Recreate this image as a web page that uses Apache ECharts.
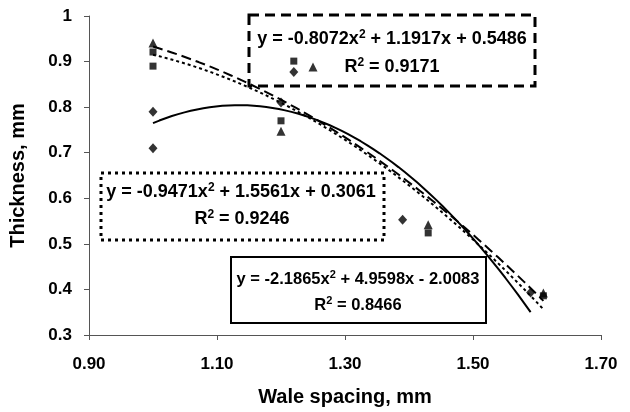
<!DOCTYPE html>
<html><head><meta charset="utf-8">
<script src="https://cdn.jsdelivr.net/npm/echarts@6/dist/echarts.min.js"></script>
<style>html,body{margin:0;padding:0;background:#fff}#c{width:630px;height:412px}</style>
</head><body><div id="c"></div>
<script>
// Data
const diamondX = [1.00, 1.00, 1.20, 1.22, 1.39, 1.59];
const diamondY = [0.79, 0.71, 0.81, 0.877, 0.553, 0.393];
const squareX  = [1.00, 1.00, 1.20, 1.22, 1.43, 1.61];
const squareY  = [0.921, 0.89, 0.77, 0.901, 0.524, 0.386];
const triangleX = [1.00, 1.20, 1.25, 1.43, 1.61];
const triangleY = [0.941, 0.747, 0.888, 0.542, 0.392];
// Trendline coefficients shown on the chart (a, b, c of a*x^2 + b*x + c)
const fitDiamond  = [-2.1865, 4.9598, -2.0083];
const fitSquare   = [-0.9471, 1.5561, 0.3061];
const fitTriangle = [-0.8072, 1.1917, 0.5486];
const r2 = { diamond: '0.8466', square: '0.9246', triangle: '0.9171' };
const xTicks = ['0.90', '1.10', '1.30', '1.50', '1.70'];

function pairs(xs, ys) { return xs.map((x, i) => [x, ys[i]]); }
function curve(coef, xs) {
  const x0 = Math.min(...xs), x1 = Math.max(...xs), out = [];
  const n = 60;
  for (let i = 0; i <= n; i++) {
    const x = x0 + (x1 - x0) * i / n;
    out.push([x, coef[0] * x * x + coef[1] * x + coef[2]]);
  }
  return out;
}
function eq(coef) {
  const f = v => Math.abs(v).toFixed(4);
  const s = v => v < 0 ? ' - ' : ' + ';
  return 'y = ' + (coef[0] < 0 ? '-' : '') + f(coef[0]) + 'x{sup|2}' + s(coef[1]) + f(coef[1]) + 'x' + s(coef[2]) + f(coef[2]);
}

const FONT = 'Liberation Sans, Arial, sans-serif';
const chart = echarts.init(document.getElementById('c'), null, { renderer: 'canvas' });
function txt(text, x, y, size) {
  return { type: 'text', x: x, y: y, z: 100,
    style: { text: text, x: 0, y: 0, align: 'center', verticalAlign: 'middle', fill: '#000',
      font: 'bold ' + size + 'px ' + FONT,
      rich: { sup: { fontSize: Math.round(size * 0.65), fontWeight: 'bold', fontFamily: FONT,
        verticalAlign: 'top', padding: [0, 0, 8, 0] } } } };
}
function box(x, y, w, h, dash, lw) {
  return { type: 'rect', shape: { x: x, y: y, width: w, height: h }, z: 90,
    style: { fill: 'none', stroke: '#000', lineWidth: lw, lineDash: dash } };
}

const option = {
  animation: false,
  grid: { left: 82.5, right: 29, top: 16, bottom: 76, containLabel: false },
  xAxis: {
    type: 'value', min: 0.9, max: 1.7, interval: 0.2,
    name: 'Wale spacing, mm', nameLocation: 'middle', nameGap: 52,
    nameTextStyle: { fontFamily: FONT, fontWeight: 'bold', fontSize: 20, color: '#000' },
    axisLine: { lineStyle: { color: '#555', width: 1 } },
    axisTick: { show: true, length: 5, lineStyle: { color: '#555' } },
    splitLine: { show: false },
    axisLabel: { margin: 21, fontFamily: FONT, fontWeight: 'bold', fontSize: 17, color: '#000',
      formatter: v => xTicks[Math.round((v - 0.9) / 0.2)] }
  },
  yAxis: {
    type: 'value', min: 0.3, max: 1, interval: 0.1,
    name: 'Thickness, mm', nameLocation: 'middle', nameGap: 61, nameRotate: 90,
    nameTextStyle: { fontFamily: FONT, fontWeight: 'bold', fontSize: 20, color: '#000' },
    axisLine: { show: true, lineStyle: { color: '#555', width: 1 } },
    axisTick: { show: true, length: 5, lineStyle: { color: '#555' } },
    splitLine: { show: false },
    axisLabel: { margin: 17, fontFamily: FONT, fontWeight: 'bold', fontSize: 17, color: '#000',
      formatter: v => String(parseFloat(v.toFixed(1))) }
  },
  series: [
    { type: 'line', data: curve(fitDiamond, diamondX), showSymbol: false, symbol: 'none',
      lineStyle: { color: '#000', width: 2, type: 'solid' }, z: 2 },
    { type: 'line', data: curve(fitSquare, squareX), showSymbol: false, symbol: 'none',
      lineStyle: { color: '#000', width: 2, type: [3, 3] }, z: 2 },
    { type: 'line', data: curve(fitTriangle, triangleX), showSymbol: false, symbol: 'none',
      lineStyle: { color: '#000', width: 2, type: [10, 5] }, z: 2 },
    { type: 'scatter', data: pairs(diamondX, diamondY), symbol: 'diamond', symbolSize: [9, 10],
      itemStyle: { color: '#000' }, z: 3 },
    { type: 'scatter', data: pairs(squareX, squareY), symbol: 'rect', symbolSize: 7,
      itemStyle: { color: '#000' }, z: 3 },
    { type: 'scatter', data: pairs(triangleX, triangleY), symbol: 'triangle', symbolSize: [9, 9],
      itemStyle: { color: '#000' }, z: 3 }
  ],
  graphic: [
    box(249, 15, 286, 71, [10, 6], 3),
    txt(eq(fitTriangle), 392, 39, 18),
    txt('R{sup|2} = ' + r2.triangle, 392, 67, 18),
    box(101, 173, 283, 67, [3, 4], 3),
    txt(eq(fitSquare), 241, 192, 18),
    txt('R{sup|2} = ' + r2.square, 242, 219, 18),
    box(231, 257, 255, 66, null, 2),
    txt(eq(fitDiamond), 358, 279, 16.5),
    txt('R{sup|2} = ' + r2.diamond, 358, 305, 16.5)
  ]
};
chart.setOption(option);
</script></body></html>
